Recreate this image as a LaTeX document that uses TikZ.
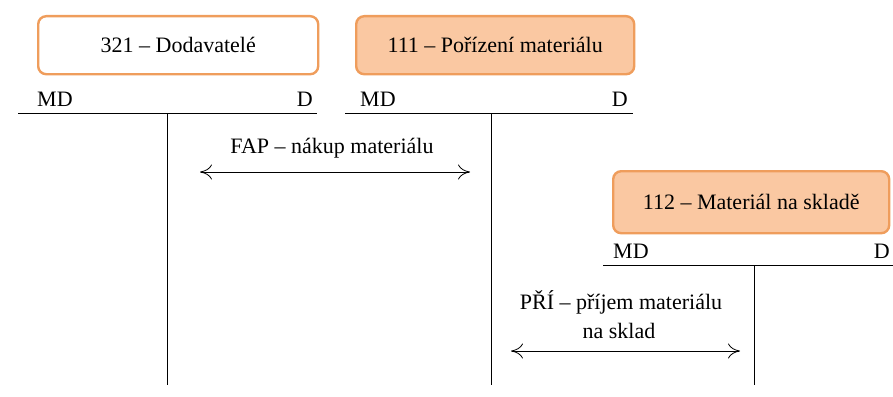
\documentclass[tikz,border=0pt]{standalone}
\usepackage{fontspec}
\setmainfont{Liberation Serif}
\usetikzlibrary{arrows.meta}
\definecolor{acctedge}{HTML}{EF9D5C}
\definecolor{acctfill}{HTML}{FAC8A2}
\begin{document}
\begin{tikzpicture}[x=1pt,y=-1pt,
  account/.style={draw=acctedge, line width=2.4pt, rounded corners=8pt,
    minimum height=58pt, anchor=north west, font=\fontsize{22}{25}\selectfont},
  accfill/.style={account, fill=acctfill},
  side/.style={font=\fontsize{22}{25}\selectfont, inner sep=0pt},
  tline/.style={line width=0.9pt, black},
  flow/.style={line width=0.8pt, {To[length=12pt,width=15pt,line width=0.8pt]}-{To[length=12pt,width=15pt,line width=0.8pt]}},
  lbl/.style={font=\fontsize{22}{25}\selectfont, align=center, inner sep=0pt}]
\useasboundingbox (0,0) rectangle (893,396);

% account 321
\node[account, minimum width=280pt] (a321) at (37,15) {321 -- Dodavatelé};
\coordinate (h1l) at (18,113);
\coordinate (h1r) at (317,113);
\coordinate (v1t) at (167,113);
\coordinate (v1b) at (167,385);
\draw[tline] (h1l) -- (h1r);
\draw[tline] (v1t) -- (v1b);
\node[side, anchor=base west] (md1) at (37,106) {MD};
\node[side, anchor=base east] (d1) at (313,106) {D};

% account 111
\node[accfill, minimum width=278pt] (a111) at (355,15) {111 -- Pořízení materiálu};
\coordinate (h2l) at (345,113);
\coordinate (h2r) at (633,113);
\coordinate (v2t) at (491,113);
\coordinate (v2b) at (491,385);
\draw[tline] (h2l) -- (h2r);
\draw[tline] (v2t) -- (v2b);
\node[side, anchor=base west] (md2) at (360,106) {MD};
\node[side, anchor=base east] (d2) at (628,106) {D};

% account 112
\node[accfill, minimum width=276pt, minimum height=62pt] (a112) at (612,170) {112 -- Materiál na skladě};
\coordinate (h3l) at (603,265);
\coordinate (h3r) at (893,265);
\coordinate (v3t) at (754,265);
\coordinate (v3b) at (754,385);
\draw[tline] (h3l) -- (h3r);
\draw[tline] (v3t) -- (v3b);
\node[side, anchor=base west] (md3) at (613,258) {MD};
\node[side, anchor=base east] (d3) at (890,258) {D};

% posting: invoice received
\coordinate (f1l) at (200,172);
\coordinate (f1r) at (470,172);
\draw[flow] (f1l) -- (f1r);
\node[lbl, anchor=base] (t1) at (332,153) {FAP -- nákup materiálu};

% posting: goods received into stock
\coordinate (f2l) at (511,351);
\coordinate (f2r) at (740,351);
\draw[flow] (f2l) -- (f2r);
\node[lbl, anchor=base] (t2) at (621,309) {PŘÍ -- příjem materiálu};
\node[lbl, anchor=base] (t3) at (619,338) {na sklad};
\end{tikzpicture}
\end{document}
